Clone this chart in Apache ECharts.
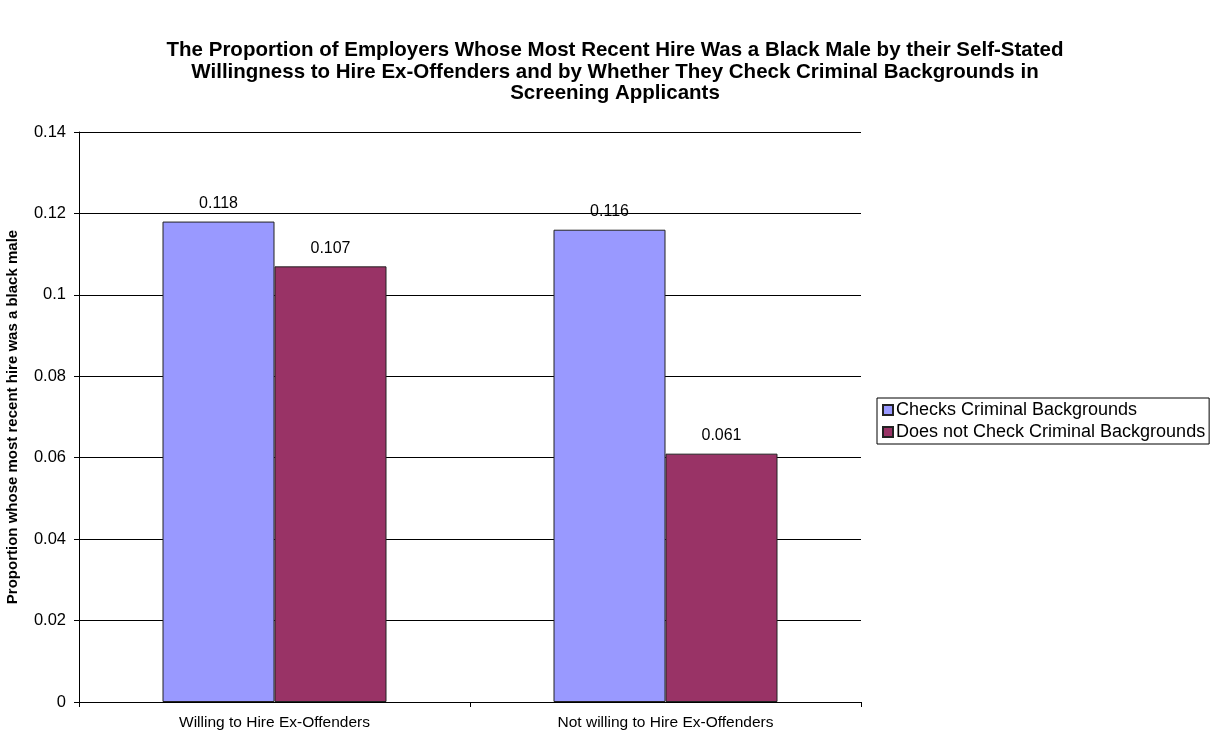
<!DOCTYPE html>
<html><head><meta charset="utf-8">
<script src="https://cdn.jsdelivr.net/npm/echarts@6/dist/echarts.min.js"></script>
<style>html,body{margin:0;padding:0;background:#fff}#c{width:1214px;height:738px}</style>
</head><body><div id="c"></div>
<script>
const categories = ["Willing to Hire Ex-Offenders", "Not willing to Hire Ex-Offenders"];
const seriesNames = ["Checks Criminal Backgrounds", "Does not Check Criminal Backgrounds"];
const checksValues = [0.118, 0.116];
const notCheckValues = [0.107, 0.061];
const yTicks = [0, 0.02, 0.04, 0.06, 0.08, 0.1, 0.12, 0.14];

const chart = echarts.init(document.getElementById('c'));
const font = '"Liberation Sans", Arial, sans-serif';
chart.setOption({
  animation: false,
  textStyle: {fontFamily: font},
  title: {
    text: "The Proportion of Employers Whose Most Recent Hire Was a Black Male by their Self-Stated\nWillingness to Hire Ex-Offenders and by Whether They Check Criminal Backgrounds in\nScreening Applicants",
    left: 610, textAlign: 'center', top: 35,
    textStyle: {fontFamily: font, fontSize: 20.5, fontWeight: 'bold', color: '#000', lineHeight: 21.5}
  },
  legend: {
    orient: 'vertical', left: 877, top: 398,
    data: seriesNames,
    icon: 'rect', itemWidth: 10, itemHeight: 10, itemGap: 4,
    borderColor: '#000', borderWidth: 1, padding: [3, 4, 3, 5],
    textStyle: {fontFamily: font, fontSize: 18, color: '#000', padding: [0, 0, 0, -2]}
  },
  grid: {left: 79, right: 353, top: 132, bottom: 36, containLabel: false, outerBoundsMode: 'none'},
  xAxis: {
    type: 'category', data: categories,
    axisLine: {lineStyle: {color: '#000'}},
    axisTick: {show: true, length: 5, lineStyle: {color: '#000'}},
    axisLabel: {fontFamily: font, fontSize: 15.5, color: '#000', margin: 13}
  },
  yAxis: {
    type: 'value', min: 0, max: 0.14, interval: 0.02,
    name: 'Proportion whose most recent hire was a black male',
    nameLocation: 'middle', nameGap: 59, nameRotate: 90,
    nameTextStyle: {fontFamily: font, fontSize: 15, fontWeight: 'bold', color: '#000'},
    axisLine: {show: true, lineStyle: {color: '#000'}},
    axisTick: {show: true, length: 5, lineStyle: {color: '#000'}},
    axisLabel: {fontFamily: font, fontSize: 16.5, color: '#000', margin: 13,
      formatter: v => { const t = yTicks.find(x => Math.abs(x - v) < 1e-9); return t === undefined ? '' : String(+t.toFixed(2)); }},
    splitLine: {lineStyle: {color: '#000', width: 1}}
  },
  series: [
    {name: seriesNames[0], type: 'bar', data: checksValues, barWidth: 112, barGap: '0%',
     itemStyle: {color: '#9999FF', borderColor: '#222', borderWidth: 1},
     label: {show: true, position: 'top', distance: 10, fontFamily: font, fontSize: 16, color: '#000'}},
    {name: seriesNames[1], type: 'bar', data: notCheckValues, barWidth: 112, barGap: '0%',
     itemStyle: {color: '#993366', borderColor: '#222', borderWidth: 1},
     label: {show: true, position: 'top', distance: 10, fontFamily: font, fontSize: 16, color: '#000'}}
  ]
});
</script></body></html>
